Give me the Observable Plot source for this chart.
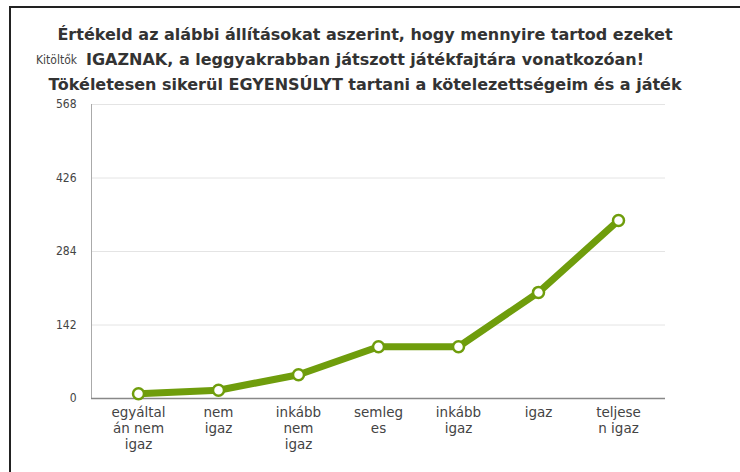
<!DOCTYPE html>
<html>
<head>
<meta charset="utf-8">
<script src="https://cdn.jsdelivr.net/npm/d3@7"></script>
<script src="https://cdn.jsdelivr.net/npm/@observablehq/plot@0.6"></script>
<style>
  html, body { margin: 0; padding: 0; background: #fff; overflow: hidden; }
  body { width: 740px; height: 472px; position: relative; }
  #frame { position: absolute; left: 9px; top: 6px; width: 731px; height: 466px;
           border-left: 2px solid #222; border-top: 2px solid #222; }
  #head { position: relative; height: 82px; }
  #title { padding-top: 14px; padding-right: 23px; text-align: center;
           font: bold 16px "DejaVu Sans", sans-serif; line-height: 25px; color: #333; }
  #ylabel { position: absolute; left: 25px; top: 45px; font: 12px "DejaVu Sans Condensed", "DejaVu Sans", sans-serif; color: #444; }
  #chart svg { display: block; }
</style>
</head>
<body>
<div id="frame">
  <div id="head">
    <div id="title"></div>
    <div id="ylabel"></div>
  </div>
  <div id="chart"></div>
</div>
<script>
const titleLines = [
  "Értékeld az alábbi állításokat aszerint, hogy mennyire tartod ezeket",
  "IGAZNAK, a leggyakrabban játszott játékfajtára vonatkozóan!",
  "Tökéletesen sikerül EGYENSÚLYT tartani a kötelezettségeim és a játék"
];
const yLabel = "Kitöltők";
const categories = ["egyáltalán nem igaz", "nem igaz", "inkább nem igaz", "semleges", "inkább igaz", "igaz", "teljesen igaz"];
const tickLabels = ["egyáltal\nán nem\nigaz", "nem\nigaz", "inkább\nnem\nigaz", "semleg\nes", "inkább\nigaz", "igaz", "teljese\nn igaz"];
const values = [9, 16, 46, 100, 100, 205, 344];
const yTicks = [0, 142, 284, 426, 568];

document.getElementById("title").innerHTML = titleLines.map(t => `<div>${t}</div>`).join("");
document.getElementById("ylabel").textContent = yLabel;

const data = categories.map((c, i) => ({cat: c, value: values[i]}));
const green = "#6f9d0c";

const chart = Plot.plot({
  width: 729,
  height: 382,
  marginTop: 14,
  marginBottom: 74,
  marginLeft: 80,
  marginRight: 75,
  style: {fontFamily: "'DejaVu Sans Condensed', 'DejaVu Sans', sans-serif", background: "#fff"},
  x: {type: "point", domain: categories, padding: 0.58},
  y: {domain: [0, 568]},
  marks: [
    Plot.gridY(yTicks.slice(1), {stroke: "#e4e4e4", strokeOpacity: 1}),
    Plot.frame({anchor: "left", stroke: "#aaa"}),
    Plot.ruleY([0], {stroke: "#888", strokeWidth: 1.5}),
    Plot.axisY(yTicks, {tickSize: 0, tickPadding: 15, fontSize: 12, color: "#444", label: null}),
    Plot.axisX({tickSize: 0, tickPadding: 7, fontSize: 13.5, lineHeight: 1.185, color: "#444", label: null,
                fontFamily: "'DejaVu Sans', sans-serif",
                tickFormat: d => tickLabels[categories.indexOf(d)]}),
    Plot.line(data, {x: "cat", y: "value", stroke: green, strokeWidth: 7}),
    Plot.dot(data, {x: "cat", y: "value", r: 5.5, fill: "#fff", stroke: green, strokeWidth: 2.5})
  ]
});
document.getElementById("chart").appendChild(chart);
</script>
</body>
</html>
